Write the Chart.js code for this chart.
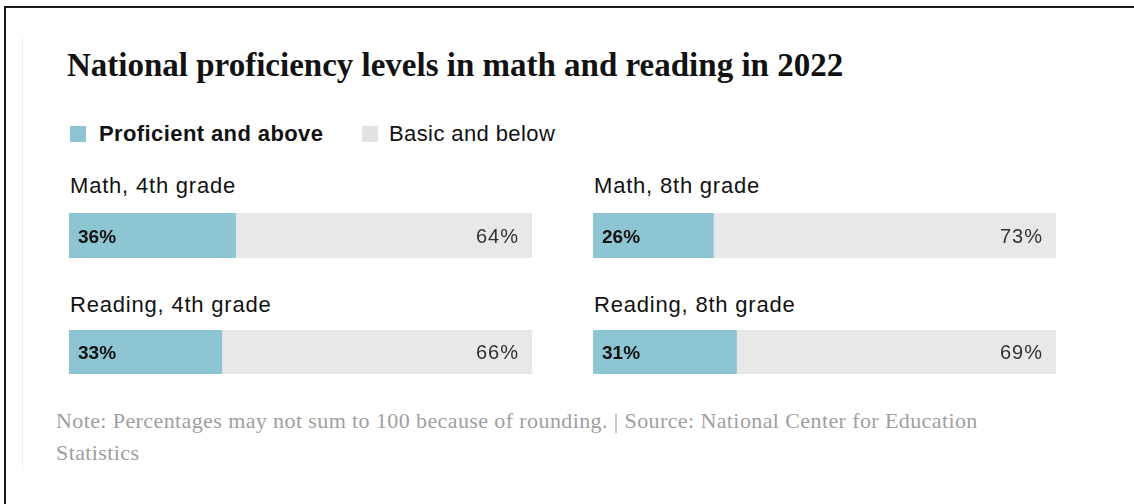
<!DOCTYPE html>
<html>
<head>
<meta charset="utf-8">
<script src="https://cdn.jsdelivr.net/npm/chart.js@4/dist/chart.umd.min.js"></script>
<style>
  html, body { margin: 0; padding: 0; background: #fff; }
  body { width: 1134px; height: 504px; position: relative; overflow: hidden; }
  #frame {
    position: absolute; left: 4px; top: 6px; right: 0; bottom: 0;
    border-top: 2px solid #1a1a1a; border-left: 2px solid #1a1a1a;
  }
  #inner {
    position: absolute; left: 22px; top: 35px; width: 1px; height: 435px;
    background: #f1f1f1;
  }
  #title {
    position: absolute; left: 67px; top: 49px; margin: 0;
    font: bold 33px "Liberation Serif", serif; line-height: 33px;
    color: #121212; white-space: nowrap;
  }
  .legend-swatch { position: absolute; width: 16px; height: 16px; top: 126px; }
  .legend-text {
    position: absolute; top: 123px; font: 22px "Liberation Sans", sans-serif;
    line-height: 22px; color: #121212; white-space: nowrap; letter-spacing: 0.4px;
  }
  .panel-label {
    position: absolute; font: 22px "Liberation Sans", sans-serif; line-height: 22px;
    color: #121212; white-space: nowrap; letter-spacing: 0.8px;
  }
  .bar-canvas { position: absolute; }
  #note {
    position: absolute; left: 56px; top: 405px; margin: 0;
    font: 22px "Liberation Serif", serif; line-height: 32px; color: #a0a0a0;
    white-space: nowrap; letter-spacing: 0.4px;
  }
</style>
</head>
<body>
<div id="frame"></div>
<div id="inner"></div>
<h1 id="title">National proficiency levels in math and reading in 2022</h1>
<div id="legend"></div>
<div id="panels"></div>
<p id="note">Note: Percentages may not sum to 100 because of rounding. | Source: National Center for Education<br>Statistics</p>

<script>
// Data
const panelLabels = ["Math, 4th grade", "Math, 8th grade", "Reading, 4th grade", "Reading, 8th grade"];
const proficient = [36, 26, 33, 31];
const basicBelow = [64, 73, 66, 69];
const seriesNames = ["Proficient and above", "Basic and below"];
const fullScale = 100;

const TEAL = "#8ec5d3";
const GRAY = "#e8e8e8";
const LEGEND_GRAY = "#e2e2e2";

// Layout (px)
const colX = [69, 593];
const labelTop = [175, 294];
const barTop = [213, 330];
const barHeight = [45, 44];
const barWidth = 463;

/**
 * Build the legend row.
 */
function renderLegend() {
  const el = document.getElementById("legend");
  const swatchX = [70, 362];
  const textX = [99, 389];
  const colors = [TEAL, LEGEND_GRAY];
  seriesNames.forEach((name, i) => {
    const sw = document.createElement("div");
    sw.className = "legend-swatch";
    sw.style.left = swatchX[i] + "px";
    sw.style.background = colors[i];
    el.appendChild(sw);

    const txt = document.createElement("div");
    txt.className = "legend-text";
    txt.style.left = textX[i] + "px";
    txt.style.fontWeight = i === 0 ? "bold" : "normal";
    txt.textContent = name;
    el.appendChild(txt);
  });
}

// draws the percent labels inside each bar
const valueLabels = {
  id: "valueLabels",
  afterDatasetsDraw(chart) {
    const { ctx, chartArea } = chart;
    const idx = chart.options.panelIndex;
    const bar = chart.getDatasetMeta(0).data[0];
    const y = bar.y + 7;
    ctx.save();
    ctx.textBaseline = "alphabetic";
    ctx.fillStyle = "#121212";
    ctx.font = "bold 19px 'Liberation Sans', sans-serif";
    ctx.textAlign = "left";
    ctx.fillText(proficient[idx] + "%", chartArea.left + 9, y);

    ctx.fillStyle = "#333";
    ctx.font = "20px 'Liberation Sans', sans-serif";
    if ("letterSpacing" in ctx) ctx.letterSpacing = "1px";
    ctx.textAlign = "right";
    ctx.fillText(basicBelow[idx] + "%", chartArea.right - 13, y);
    ctx.restore();
  },
};

/**
 * Render one small bar chart per panel.
 */
function renderPanels() {
  const wrap = document.getElementById("panels");
  panelLabels.forEach((label, i) => {
    const col = i % 2;
    const row = Math.floor(i / 2);

    const lab = document.createElement("div");
    lab.className = "panel-label";
    lab.style.left = colX[col] + 1 + "px";
    lab.style.top = labelTop[row] + "px";
    lab.textContent = label;
    wrap.appendChild(lab);

    const canvas = document.createElement("canvas");
    canvas.className = "bar-canvas";
    canvas.width = barWidth;
    canvas.height = barHeight[row];
    canvas.style.left = colX[col] + "px";
    canvas.style.top = barTop[row] + "px";
    wrap.appendChild(canvas);

    new Chart(canvas.getContext("2d"), {
      type: "bar",
      data: {
        labels: [label],
        datasets: [
          {
            label: seriesNames[0],
            data: [proficient[i]],
            backgroundColor: TEAL,
            order: 0,
          },
          {
            label: seriesNames[1],
            data: [fullScale],
            backgroundColor: GRAY,
            order: 1,
          },
        ],
      },
      options: {
        panelIndex: i,
        indexAxis: "y",
        responsive: false,
        animation: false,
        events: [],
        devicePixelRatio: 1,
        layout: { padding: 0 },
        datasets: {
          bar: {
            grouped: false,
            barPercentage: 1,
            categoryPercentage: 1,
            borderWidth: 0,
            borderSkipped: false,
          },
        },
        plugins: {
          legend: { display: false },
          tooltip: { enabled: false },
        },
        scales: {
          x: { display: false, min: 0, max: fullScale },
          y: { display: false },
        },
      },
      plugins: [valueLabels],
    });
  });
}

renderLegend();
renderPanels();
</script>
</body>
</html>
